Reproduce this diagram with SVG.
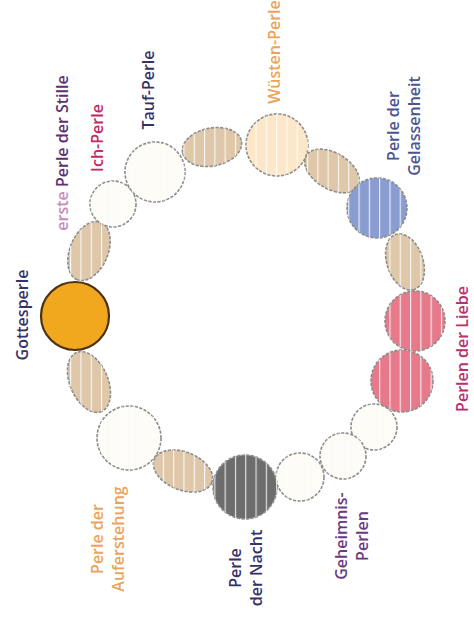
<svg xmlns="http://www.w3.org/2000/svg" xmlns:xlink="http://www.w3.org/1999/xlink" width="474" height="617" viewBox="0 0 474 617">
<style>
.bead{stroke:#8d8d8d;stroke-width:1.6;stroke-dasharray:3.2 1.4}
.spacer{fill:#dfc8aa}
.white{fill:#fdfcf6}
.lbl{font-family:"Open Sans","Liberation Sans",sans-serif;font-weight:600;font-size:16px;text-anchor:middle}
.navy{fill:#353266}
.purple{fill:#5e2f72}
.orange{fill:#eba35a}
.crimson{fill:#c42a66}
.blue{fill:#4b5690}
</style>
<defs>
<pattern id="stripes" patternUnits="userSpaceOnUse" x="8.3" y="0" width="10.3" height="617">
<rect x="0" y="0" width="1.1" height="617" fill="#ffffff" fill-opacity="0.85"/>
</pattern>
<clipPath id="beadClip">
<use xlink:href="#s1"/><use xlink:href="#s2"/><use xlink:href="#s3"/><use xlink:href="#s4"/><use xlink:href="#s5"/><use xlink:href="#s6"/>
<use xlink:href="#b-stille"/><use xlink:href="#b-tauf"/><use xlink:href="#b-wuesten"/><use xlink:href="#b-gelassen"/>
<use xlink:href="#b-liebe1"/><use xlink:href="#b-liebe2"/><use xlink:href="#b-geh1"/><use xlink:href="#b-geh2"/><use xlink:href="#b-geh3"/>
<use xlink:href="#b-nacht"/><use xlink:href="#b-aufer"/>
</clipPath>
</defs>
<rect width="474" height="617" fill="#ffffff"/>
<g id="connectors"/>
<g id="spacers">
<ellipse id="s1" class="bead spacer" cx="89" cy="251" rx="31" ry="19" transform="rotate(112.6 89 251)"/>
<ellipse id="s2" class="bead spacer" cx="212" cy="147" rx="30" ry="19" transform="rotate(169 212 147)"/>
<ellipse id="s3" class="bead spacer" cx="332" cy="171" rx="30" ry="18" transform="rotate(31 332 171)"/>
<ellipse id="s4" class="bead spacer" cx="405" cy="262" rx="29" ry="18" transform="rotate(71.4 405 262)"/>
<ellipse id="s5" class="bead spacer" cx="183" cy="471" rx="31" ry="19" transform="rotate(21.8 183 471)"/>
<ellipse id="s6" class="bead spacer" cx="89" cy="382" rx="32" ry="19" transform="rotate(67 89 382)"/>
</g>
<g id="gottesperle">
<circle cx="75" cy="316" r="34" fill="#f2a81e" stroke="#4a3212" stroke-width="2.2"/>
<text class="lbl navy" transform="translate(28,315) rotate(-90)">Gottesperle</text>
</g>
<g id="stille">
<circle id="b-stille" class="bead white" cx="113" cy="204" r="23"/>
<text class="lbl purple" transform="translate(68,153) rotate(-90)"><tspan fill="#c98ab9">erste</tspan> Perle der Stille</text>
</g>
<g id="ich">
<text class="lbl crimson" transform="translate(103,138) rotate(-90)">Ich-Perle</text>
</g>
<g id="tauf">
<circle id="b-tauf" class="bead white" cx="155" cy="172" r="30"/>
<text class="lbl navy" transform="translate(154,90) rotate(-90)">Tauf-Perle</text>
</g>
<g id="wuesten">
<circle id="b-wuesten" class="bead" cx="277" cy="145" r="31" fill="#fce7c8"/>
<text class="lbl orange" transform="translate(280,52) rotate(-90)">Wüsten-Perle</text>
</g>
<g id="gelassenheit">
<circle id="b-gelassen" class="bead" cx="377" cy="208" r="30" fill="#8a9dd1"/>
<text class="lbl blue" transform="translate(399,126) rotate(-90)"><tspan x="0" y="0">Perle der</tspan><tspan x="0" y="21">Gelassenheit</tspan></text>
</g>
<g id="liebe">
<circle id="b-liebe1" class="bead" cx="415" cy="321" r="30" fill="#e67a8b"/>
<circle id="b-liebe2" class="bead" cx="402" cy="381" r="31" fill="#e67a8b"/>
<text class="lbl crimson" transform="translate(468,349) rotate(-90)" style="fill:#b8306c">Perlen der Liebe</text>
</g>
<g id="geheimnis">
<circle id="b-geh1" class="bead white" cx="374" cy="427" r="23"/>
<circle id="b-geh2" class="bead white" cx="343" cy="456" r="23"/>
<circle id="b-geh3" class="bead white" cx="300" cy="477" r="24"/>
<text class="lbl purple" transform="translate(347,536) rotate(-90)" style="fill:#6a3a80"><tspan x="0" y="0">Geheimnis-</tspan><tspan x="0" y="21">Perlen</tspan></text>
</g>
<g id="nacht">
<circle id="b-nacht" class="bead" cx="245" cy="487" r="32" fill="#6d6d6d"/>
<text class="lbl navy" transform="translate(241,568) rotate(-90)"><tspan x="0" y="0">Perle</tspan><tspan x="0" y="21">der Nacht</tspan></text>
</g>
<g id="auferstehung">
<circle id="b-aufer" class="bead white" cx="129" cy="438" r="32"/>
<text class="lbl orange" transform="translate(103,539) rotate(-90)"><tspan x="0" y="0">Perle der</tspan><tspan x="0" y="21">Auferstehung</tspan></text>
</g>
<g id="scan-stripes">
<rect x="0" y="0" width="474" height="617" fill="url(#stripes)" clip-path="url(#beadClip)"/>
</g>
</svg>
